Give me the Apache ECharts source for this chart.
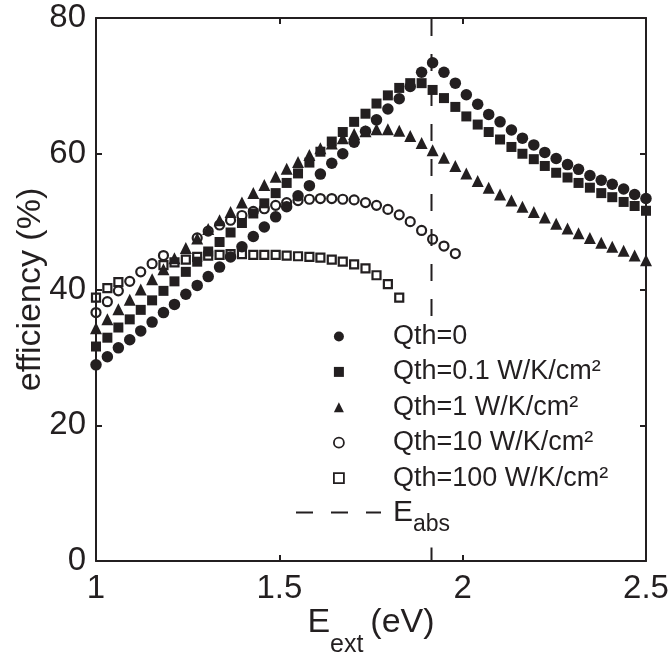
<!DOCTYPE html>
<html><head><meta charset="utf-8">
<script src="https://cdn.jsdelivr.net/npm/echarts@6/dist/echarts.min.js"></script>
<style>html,body{margin:0;padding:0;background:#fff}#c{width:671px;height:653px}</style>
</head><body><div id="c"></div>
<script>
// photon energy of the external emitter (eV)
const energies = [1.000,1.031,1.061,1.092,1.122,1.153,1.184,1.214,1.245,1.276,
  1.306,1.337,1.367,1.398,1.429,1.459,1.490,1.520,1.551,1.582,
  1.612,1.643,1.673,1.704,1.735,1.765,1.796,1.827,1.857,1.888,
  1.918,1.949,1.980,2.010,2.041,2.071,2.102,2.133,2.163,2.194,
  2.224,2.255,2.286,2.316,2.347,2.378,2.408,2.439,2.469,2.500];
// efficiency (%)
const qth0 = [28.9,30.1,31.4,32.6,33.9,35.2,36.6,37.8,39.3,40.6,
  41.9,43.3,44.8,46.3,47.8,49.2,50.7,52.2,53.8,55.3,
  57.0,58.6,60.0,61.7,63.3,65.0,66.6,68.1,69.9,72.0,
  73.4,72.0,70.4,68.7,67.3,65.8,64.7,63.5,62.3,61.3,
  60.2,59.3,58.4,57.7,56.8,56.1,55.5,54.8,54.0,53.4];
const qth01 = [31.6,32.9,34.4,35.6,37.0,38.4,39.8,41.2,42.6,44.1,
  45.6,47.0,48.4,49.8,51.2,52.7,54.2,55.7,57.1,58.7,
  60.3,61.8,63.2,64.7,65.9,67.4,68.6,69.7,70.4,70.4,
  69.4,68.2,66.9,65.5,64.3,63.2,62.1,61.0,60.0,59.2,
  58.2,57.2,56.5,55.7,55.0,54.2,53.6,52.9,52.3,51.6];
const qth1 = [34.3,35.6,37.1,38.5,40.0,41.5,43.0,44.6,46.1,47.5,
  48.9,50.2,51.4,52.8,54.2,55.4,56.6,57.8,58.8,59.8,
  60.8,61.5,62.3,62.9,63.3,63.6,63.6,63.4,62.6,61.6,
  60.5,59.4,58.2,57.1,56.0,55.0,54.0,53.1,52.2,51.4,
  50.6,49.7,49.0,48.3,47.6,46.9,46.3,45.7,45.0,44.3];
const qth10 = [36.6,38.2,39.8,41.2,42.6,43.8,45.0,null,null,47.6,
  48.6,49.5,50.2,50.9,51.5,51.9,52.4,52.8,53.1,53.3,
  53.4,53.4,53.3,53.2,52.8,52.4,51.8,51.0,50.0,48.7,
  47.4,46.4,45.3];
const qth100 = [38.8,40.2,41.1,null,null,null,43.6,44.0,44.4,44.8,
  45.0,45.1,45.2,45.2,45.1,45.1,45.1,45.0,44.9,44.8,
  44.7,44.4,44.1,43.7,43.1,42.1,40.8,38.8];
const eAbs = 1.915;
const xTicks = [1, 1.5, 2, 2.5];
const yTicks = [0, 20, 40, 60, 80];
const seriesNames = ['Qth=0', 'Qth=0.1 W/K/cm\u00b2', 'Qth=1 W/K/cm\u00b2', 'Qth=10 W/K/cm\u00b2', 'Qth=100 W/K/cm\u00b2'];
const absName = 'E_abs';

function pairs(vals) {
  const out = [];
  vals.forEach((v, i) => { if (v !== null) out.push([energies[i], v]); });
  return out;
}

const INK = '#231f20';
const FONT = '"Liberation Sans", Arial, Helvetica, sans-serif';
const CLEAR = 'rgba(255,255,255,0)';
const looks = [
  {symbol: 'circle', symbolSize: 11.5, itemStyle: {color: INK, opacity: 1}, legendStyle: {color: INK, opacity: 1}},
  {symbol: 'rect', symbolSize: 10, itemStyle: {color: INK, opacity: 1}, legendStyle: {color: INK, opacity: 1}},
  {symbol: 'triangle', symbolSize: 12, itemStyle: {color: INK, opacity: 1}, legendStyle: {color: INK, opacity: 1}},
  {symbol: 'circle', symbolSize: 9, itemStyle: {color: CLEAR, borderColor: INK, borderWidth: 2.2, opacity: 1}, legendStyle: {color: CLEAR, borderColor: INK, borderWidth: 1.8, opacity: 1}},
  {symbol: 'rect', symbolSize: 8, itemStyle: {color: CLEAR, borderColor: INK, borderWidth: 2.2, opacity: 1}, legendStyle: {color: CLEAR, borderColor: INK, borderWidth: 1.8, opacity: 1}}
];
const allValues = [qth0, qth01, qth1, qth10, qth100];

const xMin = xTicks[0], xMax = xTicks[xTicks.length - 1], xStep = xTicks[1] - xTicks[0];
const yMin = yTicks[0], yMax = yTicks[yTicks.length - 1], yStep = yTicks[1] - yTicks[0];

function axisBase() {
  return {
    type: 'value',
    axisLine: {show: true, onZero: false, lineStyle: {color: INK, width: 2}},
    axisTick: {show: true, inside: true, length: 6, lineStyle: {color: INK, width: 2}},
    splitLine: {show: false},
    nameMoveOverlap: false
  };
}

const series = seriesNames.map((n, k) => ({
  name: n,
  type: 'scatter',
  data: pairs(allValues[k]),
  symbol: looks[k].symbol,
  symbolSize: looks[k].symbolSize,
  itemStyle: looks[k].itemStyle,
  z: 3 + k,
  silent: true
}));
series.unshift({
  name: absName,
  type: 'line',
  data: [[eAbs, yMin], [eAbs, yMax]],
  symbol: 'none',
  showSymbol: false,
  lineStyle: {color: INK, width: 2, type: [17, 18]},
  itemStyle: {color: INK},
  z: 1,
  silent: true
});

const option = {
  animation: false,
  backgroundColor: '#fff',
  grid: {left: 96, right: 25, top: 18, bottom: 92, containLabel: false, outerBoundsMode: 'none'},
  xAxis: [
    Object.assign(axisBase(), {
      min: xMin, max: xMax, interval: xStep, position: 'bottom',
      axisLabel: {color: INK, fontSize: 33, fontFamily: FONT, margin: 11},
      name: '{e|E}{s|ext }{e|(eV)}',
      nameLocation: 'middle', nameGap: 45,
      nameTextStyle: {
        color: INK, fontFamily: FONT, fontSize: 34,
        rich: {
          e: {fontSize: 34, lineHeight: 34, verticalAlign: 'top', fontFamily: FONT, color: INK},
          s: {fontSize: 25, lineHeight: 25, verticalAlign: 'top', padding: [27, 0, 0, 0], fontFamily: FONT, color: INK}
        }
      }
    }),
    Object.assign(axisBase(), {
      min: xMin, max: xMax, interval: xStep, position: 'top',
      axisLabel: {show: false}
    })
  ],
  yAxis: [
    Object.assign(axisBase(), {
      min: yMin, max: yMax, interval: yStep, position: 'left',
      axisLabel: {color: INK, fontSize: 33, fontFamily: FONT, margin: 10},
      name: 'efficiency (%)', nameLocation: 'middle', nameGap: 48,
      nameTextStyle: {color: INK, fontSize: 34, fontFamily: FONT}
    }),
    Object.assign(axisBase(), {
      min: yMin, max: yMax, interval: yStep, position: 'right',
      axisLabel: {show: false}
    })
  ],
  legend: [
    {
      orient: 'vertical', left: 289, top: 319,
      padding: [4, 12, 4, 44],
      backgroundColor: '#fff',
      itemWidth: 10, itemHeight: 10, itemGap: 8.4,
      selectedMode: false,
      formatter: (n) => '{t|' + n + '}',
      textStyle: {
        color: INK, fontSize: 27, lineHeight: 27, fontFamily: FONT,
        rich: {t: {fontSize: 27, lineHeight: 27, padding: [0, 0, 0, 44], fontFamily: FONT, color: INK}}
      },
      data: seriesNames.map((n, k) => ({name: n, icon: looks[k].symbol, itemStyle: looks[k].legendStyle}))
    },
    {
      orient: 'vertical', left: 290, top: 495.5,
      padding: [2, 10, 5, 5],
      backgroundColor: '#fff',
      itemWidth: 85, itemHeight: 10,
      selectedMode: false,
      itemStyle: {color: CLEAR, borderWidth: 0, opacity: 0},
      lineStyle: {color: INK, width: 2, type: [17, 18], opacity: 1},
      data: [{name: absName}],
      formatter: () => '{e|E}{s|abs}',
      textStyle: {
        color: INK, fontFamily: FONT, fontSize: 30,
        rich: {
          e: {fontSize: 30, lineHeight: 30, verticalAlign: 'top', padding: [0, 0, 15, 7], fontFamily: FONT, color: INK},
          s: {fontSize: 23, lineHeight: 23, verticalAlign: 'top', padding: [16, 0, 0, 0], fontFamily: FONT, color: INK}
        }
      }
    }
  ],
  series: series
};

const chart = echarts.init(document.getElementById('c'), null, {renderer: 'canvas'});
chart.setOption(option);
</script>
</body></html>
